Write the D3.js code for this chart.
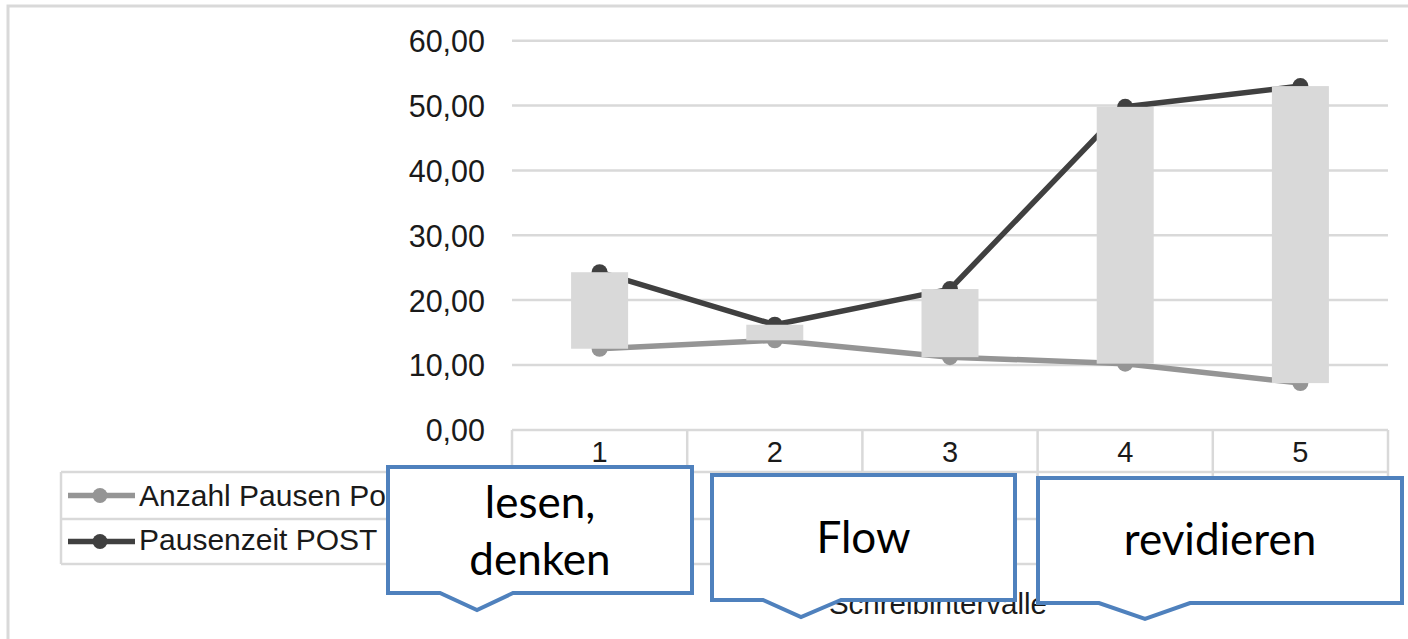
<!DOCTYPE html>
<html>
<head>
<meta charset="utf-8">
<script src="https://cdn.jsdelivr.net/npm/d3@7"></script>
<style>
  html, body { margin: 0; padding: 0; background: #fff; }
  svg { display: block; }
</style>
</head>
<body>
<svg id="chart" width="1408" height="639"></svg>
<script>
// ---- data ----
const categories = ["1", "2", "3", "4", "5"];
const anzahlPausen = [12.5, 13.8, 11.2, 10.2, 7.2];
const pausenzeit = [24.3, 16.2, 21.7, 49.8, 53.0];
const seriesNames = ["Anzahl Pausen Post", "Pausenzeit POST"];
const yTicks = [0, 10, 20, 30, 40, 50, 60];
const axisTitle = "Schreibintervalle";
const calloutTexts = [["lesen,", "denken"], ["Flow"], ["revidieren"]];

// ---- layout ----
const svg = d3.select("#chart");
const W = 1408, H = 639;
const plotLeft = 512, plotRight = 1388, plotTop = 40.7, plotBottom = 429.8;
const gridColor = "#d9d9d9";
const lightColor = "#959595", darkColor = "#404040";
const calloutColor = "#4f81bd";

const x = d3.scaleBand().domain(categories).range([plotLeft, plotRight]).padding(0);
const y = d3.scaleLinear().domain([0, 60]).range([plotBottom, plotTop]);

// frame
svg.append("rect").attr("x", 8).attr("y", 6).attr("width", W + 10).attr("height", H + 10)
  .attr("fill", "#fff").attr("stroke", gridColor).attr("stroke-width", 3);

// gridlines
svg.append("g").selectAll("line").data(yTicks.filter(d => d > 0)).join("line")
  .attr("x1", plotLeft).attr("x2", plotRight)
  .attr("y1", d => y(d)).attr("y2", d => y(d))
  .attr("stroke", gridColor).attr("stroke-width", 2.5);

// y axis labels
const fmt = d => d3.format(".2f")(d).replace(".", ",");
const yAxis = d3.axisLeft(y).tickValues(yTicks).tickFormat(fmt).tickSize(0).tickPadding(0);
const yg = svg.append("g").attr("transform", `translate(485,0)`).call(yAxis);
yg.select(".domain").remove();
yg.selectAll("text").attr("font-family", "Liberation Sans, Arial, sans-serif")
  .attr("font-size", 30.5).attr("fill", "#1a1a1a").attr("dy", "0.36em");

// data table grid
const tableRows = [430, 472, 519, 564];
const tg = svg.append("g").attr("stroke", gridColor).attr("stroke-width", 2.5);
tg.append("line").attr("x1", plotLeft).attr("x2", plotRight).attr("y1", tableRows[0]).attr("y2", tableRows[0]);
tableRows.slice(1).forEach(r => {
  tg.append("line").attr("x1", 61).attr("x2", plotRight).attr("y1", r).attr("y2", r);
});
const bounds = categories.map(c => x(c)).concat([plotRight]);
tg.selectAll("line.v").data(bounds).join("line").attr("class", "v")
  .attr("x1", d => d).attr("x2", d => d).attr("y1", tableRows[0]).attr("y2", tableRows[3]);
tg.append("line").attr("x1", 61).attr("x2", 61).attr("y1", tableRows[1]).attr("y2", tableRows[3]);

// category labels
svg.append("g").selectAll("text").data(categories).join("text")
  .attr("x", d => x(d) + x.bandwidth() / 2).attr("y", 462)
  .attr("text-anchor", "middle")
  .attr("font-family", "Liberation Sans, Arial, sans-serif").attr("font-size", 29)
  .attr("fill", "#1a1a1a").text(d => d);

// lines
const cx = (d, i) => x(categories[i]) + x.bandwidth() / 2;
const line = d3.line().x(cx).y(d => y(d));
[[anzahlPausen, lightColor], [pausenzeit, darkColor]].forEach(([data, col]) => {
  svg.append("path").datum(data).attr("d", line).attr("fill", "none")
    .attr("stroke", col).attr("stroke-width", 5.5).attr("stroke-linejoin", "round");
  svg.append("g").selectAll("circle").data(data).join("circle")
    .attr("cx", cx).attr("cy", d => y(d)).attr("r", 8).attr("fill", col);
});

// up-down bars
const barW = 57;
svg.append("g").selectAll("rect").data(categories).join("rect")
  .attr("x", (d, i) => cx(null, i) - barW / 2)
  .attr("width", barW)
  .attr("y", (d, i) => y(Math.max(anzahlPausen[i], pausenzeit[i])))
  .attr("height", (d, i) => Math.abs(y(anzahlPausen[i]) - y(pausenzeit[i])))
  .attr("fill", "#d9d9d9");

// legend
const lg = svg.append("g");
const legendRows = [506, 550];
const legendMid = [495.5, 541.5];
[lightColor, darkColor].forEach((col, i) => {
  lg.append("line").attr("x1", 68).attr("x2", 135).attr("y1", legendMid[i]).attr("y2", legendMid[i])
    .attr("stroke", col).attr("stroke-width", 5.5);
  lg.append("circle").attr("cx", 100).attr("cy", legendMid[i]).attr("r", 7.5).attr("fill", col);
  lg.append("text").attr("x", 139).attr("y", legendRows[i])
    .attr("font-family", "Liberation Sans, Arial, sans-serif").attr("font-size", 30)
    .attr("fill", "#1a1a1a").text(seriesNames[i]);
});

// axis title
svg.append("text").attr("x", 1047).attr("y", 614).attr("text-anchor", "end")
  .attr("font-family", "Liberation Sans, Arial, sans-serif").attr("font-size", 29.5)
  .attr("fill", "#1a1a1a").text(axisTitle);

// callouts
const calloutBoxes = [
  { l: 388, t: 467, r: 692, b: 593, bl: 440, br: 513, tx: 477, ty: 610, base: [518, 575] },
  { l: 712, t: 475, r: 1015, b: 600, bl: 763, br: 841, tx: 801, ty: 617, base: [553] },
  { l: 1038, t: 478, r: 1402, b: 603, bl: 1099, br: 1190, tx: 1145, ty: 619, base: [555] }
];
calloutBoxes.forEach((c, i) => {
  const p = d3.path();
  p.moveTo(c.l, c.t); p.lineTo(c.r, c.t); p.lineTo(c.r, c.b); p.lineTo(c.br, c.b);
  p.lineTo(c.tx, c.ty); p.lineTo(c.bl, c.b); p.lineTo(c.l, c.b); p.closePath();
  svg.append("path").attr("d", p.toString()).attr("fill", "#fff")
    .attr("stroke", calloutColor).attr("stroke-width", 4).attr("stroke-linejoin", "miter");
  calloutTexts[i].forEach((t, j) => {
    svg.append("text").attr("x", (c.l + c.r) / 2).attr("y", c.base[j])
      .attr("text-anchor", "middle").attr("font-family", "Lato, 'Noto Sans', sans-serif")
      .attr("font-size", 44).attr("fill", "#000").text(t);
  });
});
</script>
</body>
</html>
